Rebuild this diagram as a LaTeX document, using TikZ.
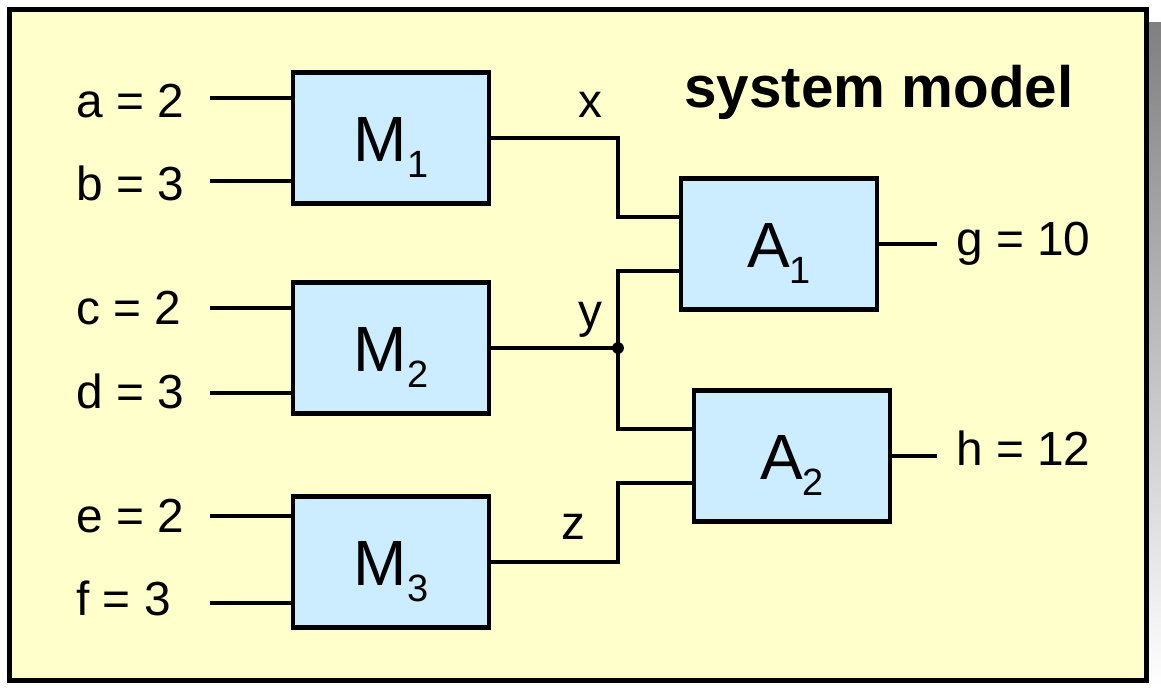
\documentclass[tikz,border=0pt]{standalone}
\usepackage{fontspec}
\setmainfont{Liberation Sans}
\usepackage{tikz}

\definecolor{paper}{HTML}{FFFFCC}
\definecolor{boxblue}{HTML}{CCECFF}
\definecolor{shade}{HTML}{919191}
\newcommand{\pin}[1]{\raisebox{-11.4pt}{\fontsize{27}{27}\selectfont #1}}

\begin{document}
\begin{tikzpicture}[x=0.025cm, y=-0.025cm,
        block/.style={rectangle, draw=black, fill=boxblue, line width=3.2pt, minimum width=4.9cm, minimum height=3.28cm, inner sep=0pt, text height=1.575cm, text depth=0.4cm, font=\fontsize{45.5}{50}\selectfont},
        wire/.style={line width=3.2pt},
        val/.style={anchor=base west, inner sep=0pt, font=\fontsize{34}{40}\selectfont},
        sig/.style={anchor=base, inner sep=0pt, font=\fontsize{34}{40}\selectfont}
    ]
        \useasboundingbox (0,0) rectangle (1161,687);
        \fill[shade] (23,22) rectangle (1161,687);
        \draw[fill=paper, line width=3.9pt] (9.5,9.5) rectangle (1146.5,680.5);

        \node[anchor=base west, inner sep=0pt, font=\fontsize{41.5}{48}\selectfont\bfseries] (title) at (684,107) {system model};

        \node[block] (M1) at (391,138) {M\pin{1}};
        \node[block] (M2) at (391,348) {M\pin{2}};
        \node[block] (M3) at (391,562) {M\pin{3}};
        \node[block] (A1) at (779,244) {A\pin{1}};
        \node[block] (A2) at (792,456) {A\pin{2}};

        % inputs
        \node[val] (va) at (76,117) {a = 2};
        \node[val] (vb) at (76,200) {b = 3};
        \node[val] (vc) at (76,324) {c = 2};
        \node[val] (vd) at (76,408) {d = 3};
        \node[val] (ve) at (76,532) {e = 2};
        \node[val] (vf) at (76,615) {f = 3};
        \coordinate (ain) at (210,98);
        \coordinate (bin) at (210,181);
        \coordinate (cin) at (210,308);
        \coordinate (din) at (210,393);
        \coordinate (ein) at (210,516);
        \coordinate (fin) at (210,603);
        \draw[wire] (ain) -- (ain -| M1.west);
        \draw[wire] (bin) -- (bin -| M1.west);
        \draw[wire] (cin) -- (cin -| M2.west);
        \draw[wire] (din) -- (din -| M2.west);
        \draw[wire] (ein) -- (ein -| M3.west);
        \draw[wire] (fin) -- (fin -| M3.west);

        % internal signals
        \coordinate (A1x) at ([yshift=0.675cm]A1.west);
        \coordinate (A1y) at ([yshift=-0.675cm]A1.west);
        \coordinate (A2y) at ([yshift=0.675cm]A2.west);
        \coordinate (A2z) at ([yshift=-0.675cm]A2.west);
        \coordinate (yj) at (618,348);
        \draw[wire] (M1.east) -| (yj |- A1x) -- (A1x);
        \draw[wire] (M2.east) -- (yj);
        \draw[wire] (yj) |- (A1y);
        \draw[wire] (yj) |- (A2y);
        \draw[wire] (M3.east) -| (yj |- A2z) -- (A2z);
        \fill (yj) circle[radius=4.2pt];
        \node[sig] (sx) at (590,117) {x};
        \node[sig] (sy) at (590,327) {y};
        \node[sig] (sz) at (573,539) {z};

        % outputs
        \coordinate (gout) at (937,244);
        \coordinate (hout) at (937,456);
        \draw[wire] (A1.east) -- (gout);
        \draw[wire] (A2.east) -- (hout);
        \node[val] (vg) at (956,255) {g = 10};
        \node[val] (vh) at (956,465) {h = 12};
    \end{tikzpicture}
\end{document}
